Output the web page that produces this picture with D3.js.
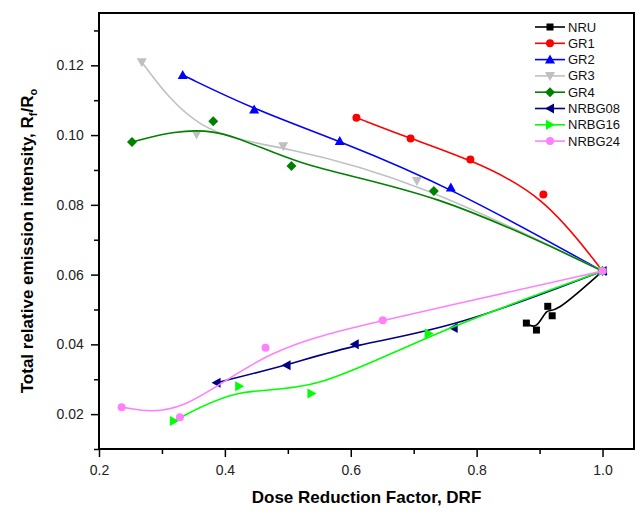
<!DOCTYPE html>
<html><head><meta charset="utf-8">
<script src="https://cdn.jsdelivr.net/npm/d3@7"></script>
<style>body{margin:0;background:#fff}svg{display:block}text{font-family:Arial,"Liberation Sans",sans-serif}</style>
</head><body><svg id="c" width="637" height="516"></svg>
<script>
const seriesNames = ["NRU","GR1","GR2","GR3","GR4","NRBG08","NRBG16","NRBG24"];
const xNRU = [0.879,0.895,0.913,0.920,1.0];
const yNRU = [0.0461,0.0441,0.0509,0.0482,0.061];
const xGR1 = [0.609,0.695,0.790,0.906,1.0];
const yGR1 = [0.105,0.099,0.093,0.083,0.061];
const xGR2 = [0.333,0.4465,0.5825,0.759,1.0];
const yGR2 = [0.1172,0.1073,0.0983,0.0850,0.061];
const xGR3 = [0.268,0.355,0.4926,0.705,1.0];
const yGR3 = [0.1209,0.1002,0.0968,0.0868,0.061];
const xGR4 = [0.2524,0.3815,0.5057,0.732,1.0];
const yGR4 = [0.098,0.104,0.0911,0.084,0.061];
const xNRBG08 = [0.3868,0.498,0.6063,0.7635,1.0];
const yNRBG08 = [0.029,0.034,0.040,0.0447,0.061];
const xNRBG16 = [0.319,0.4227,0.5375,0.7238,1.0];
const yNRBG16 = [0.018,0.028,0.0259,0.0431,0.061];
const xNRBG24 = [0.236,0.3286,0.4646,0.6508,1.0];
const yNRBG24 = [0.022,0.0191,0.039,0.0469,0.061];
const xTicks = [0.2,0.4,0.6,0.8,1.0];
const yTicks = [0.02,0.04,0.06,0.08,0.10,0.12];
const colors = ["#000000","#ff0000","#0000ff","#c0c0c0","#008000","#000080","#00ff00","#ff80ff"];
const symbols = ["square","circle","triUp","triDown","diamond","triLeft","triRight","circle"];

const xs = [xNRU,xGR1,xGR2,xGR3,xGR4,xNRBG08,xNRBG16,xNRBG24];
const ys = [yNRU,yGR1,yGR2,yGR3,yGR4,yNRBG08,yNRBG16,yNRBG24];
const series = seriesNames.map((n,i)=>({name:n,color:colors[i],sym:symbols[i],pts:xs[i].map((x,j)=>[x,ys[i][j]])}));

const svg = d3.select("#c");
const m = {l:99,t:13,r:3,b:67};
const W = 637, H = 516;
const x = d3.scaleLinear().domain([0.2,1.05]).range([m.l, W-m.r]);
const y = d3.scaleLinear().domain([0.01,0.135]).range([H-m.b, m.t]);

// axes
const xAxis = d3.axisBottom(x).tickValues(xTicks).tickFormat(d3.format(".1f")).tickSize(8).tickSizeOuter(0);
const yAxis = d3.axisLeft(y).tickValues(yTicks).tickFormat(d3.format(".2f")).tickSize(8).tickSizeOuter(0);
const gx = svg.append("g").attr("transform",`translate(0,${H-m.b})`).call(xAxis);
const gy = svg.append("g").attr("transform",`translate(${m.l},0)`).call(yAxis);
// minor ticks
svg.append("g").attr("transform",`translate(0,${H-m.b})`).call(d3.axisBottom(x).tickValues([0.3,0.5,0.7,0.9]).tickFormat("").tickSize(5).tickSizeOuter(0));
svg.append("g").attr("transform",`translate(${m.l},0)`).call(d3.axisLeft(y).tickValues([0.01,0.03,0.05,0.07,0.09,0.11,0.13]).tickFormat("").tickSize(5).tickSizeOuter(0));
svg.selectAll(".domain").remove();
svg.selectAll(".tick line").attr("stroke","#000").attr("stroke-width",1.5);
gx.selectAll("text").attr("font-size",14).attr("dy","1.1em").attr("fill","#222");
gy.selectAll("text").attr("font-size",14).attr("dx","-0.3em").attr("fill","#222");

// frame
svg.append("rect").attr("x",m.l).attr("y",m.t).attr("width",W-m.r-m.l).attr("height",H-m.b-m.t)
  .attr("fill","none").attr("stroke","#000").attr("stroke-width",2);

// titles
svg.append("text").attr("x",(m.l+W-m.r)/2).attr("y",503).attr("text-anchor","middle")
  .attr("font-size",17).attr("font-weight","bold").text("Dose Reduction Factor, DRF");
const yt = svg.append("text").attr("transform","translate(33,241) rotate(-90)").attr("text-anchor","middle")
  .attr("font-size",17).attr("font-weight","bold");
yt.append("tspan").text("Total relative emission intensity, R");
yt.append("tspan").attr("font-size",11).attr("dy",4).text("f");
yt.append("tspan").attr("dy",-4).text("/R");
yt.append("tspan").attr("font-size",11).attr("dy",4).text("o");

function marker(g, sym, color){
  const s = 8;
  let p;
  if(sym==="square") p = g.append("rect").attr("x",-3.5).attr("y",-3.5).attr("width",7).attr("height",7);
  else if(sym==="circle") p = g.append("circle").attr("r",4);
  else if(sym==="triUp") p = g.append("path").attr("d","M0,-5L5,4L-5,4Z");
  else if(sym==="triDown") p = g.append("path").attr("d","M0,5L5,-4L-5,-4Z");
  else if(sym==="triLeft") p = g.append("path").attr("d","M-5,0L4,-5L4,5Z");
  else if(sym==="triRight") p = g.append("path").attr("d","M5,0L-4,-5L-4,5Z");
  else if(sym==="diamond") p = g.append("path").attr("d","M0,-5L5,0L0,5L-5,0Z");
  p.attr("fill",color).attr("stroke","none");
}

const line = d3.line().x(d=>x(d[0])).y(d=>y(d[1])).curve(d3.curveBasis);
series.forEach(s=>{
  svg.append("path").datum(s.pts).attr("d",line).attr("fill","none").attr("stroke",s.color).attr("stroke-width",1.6);
  s.pts.forEach(p=>{
    const g = svg.append("g").attr("transform",`translate(${x(p[0])},${y(p[1])})`);
    marker(g,s.sym,s.color);
  });
});

// legend
const lg = svg.append("g");
series.forEach((s,i)=>{
  const yy = 27 + i*16.3;
  lg.append("line").attr("x1",535).attr("x2",565).attr("y1",yy).attr("y2",yy).attr("stroke",s.color).attr("stroke-width",1.6);
  const g = lg.append("g").attr("transform",`translate(550,${yy})`);
  marker(g,s.sym,s.color);
  lg.append("text").attr("x",568).attr("y",yy+4.5).attr("font-size",13).attr("fill","#111").text(s.name);
});
</script></body></html>
